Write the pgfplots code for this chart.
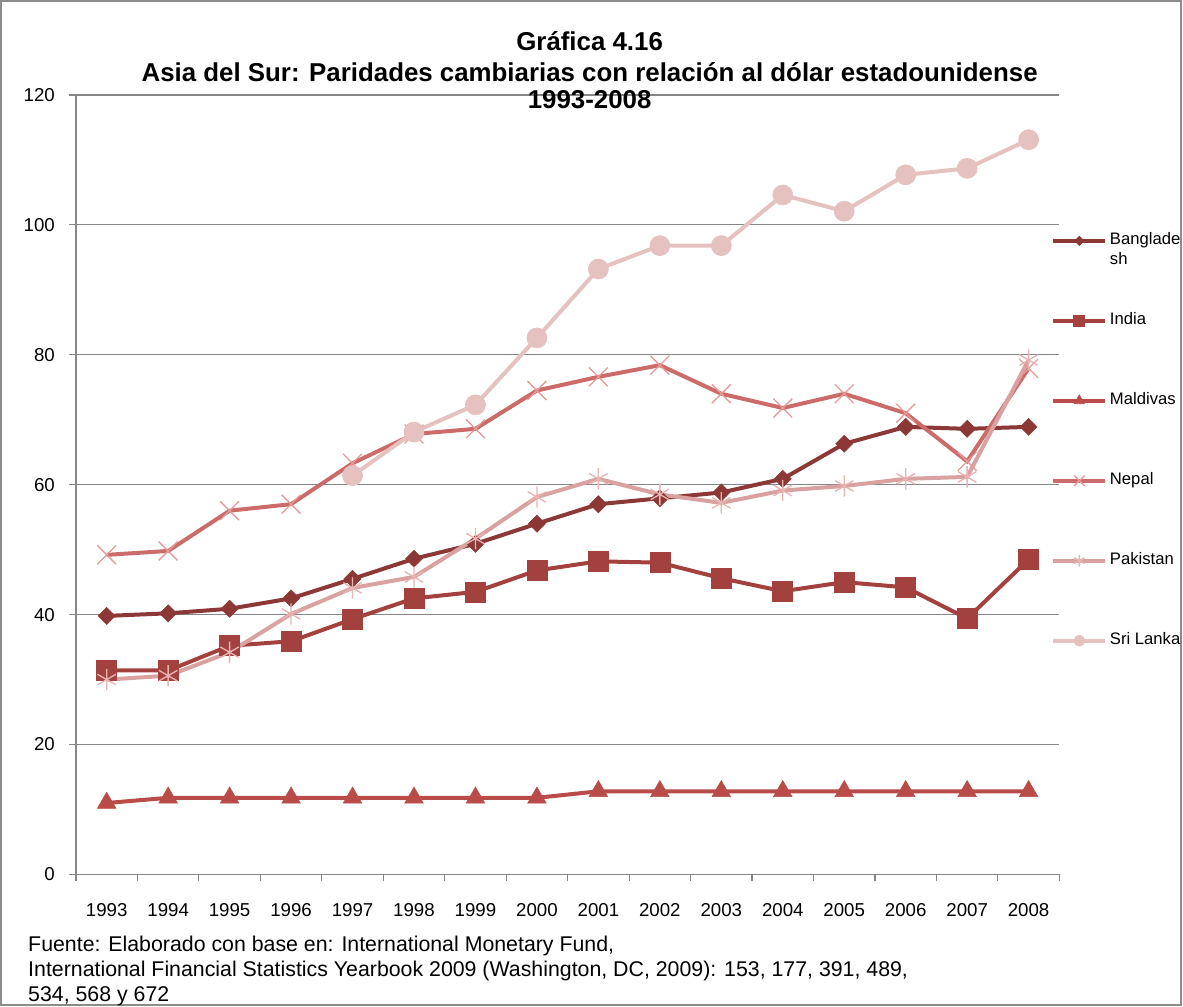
\documentclass[border=0pt]{standalone}
\usepackage{pgfplots}
\pgfplotsset{compat=1.18}
\usepackage{fontspec}
\setmainfont{Liberation Sans}
\definecolor{cBan}{RGB}{139,56,55}
\definecolor{cInd}{RGB}{163,65,62}
\definecolor{cMal}{RGB}{185,76,72}
\definecolor{cNep}{RGB}{204,108,106}
\definecolor{cNepM}{RGB}{228,155,153}
\definecolor{cPak}{RGB}{217,162,160}
\definecolor{cPakM}{RGB}{232,180,178}
\definecolor{cSri}{RGB}{229,193,192}
\definecolor{gridc}{RGB}{134,134,134}
\begin{document}
\begin{tikzpicture}
\path (0pt,0pt) rectangle (887.25pt,755.25pt);
\draw[draw=black!45, line width=1.5pt] (0.75pt,0.75pt) rectangle (886.5pt,754.5pt);
\begin{axis}[
  at={(57pt,99pt)}, anchor=south west,
  scale only axis, width=738pt, height=585pt,
  xmin=-0.5, xmax=15.5, ymin=0, ymax=120,
  ytick={0,20,...,120},
  xtick={-0.5,0.5,...,15.5},
  x tick label as interval,
  xticklabels={1993,1994,1995,1996,1997,1998,1999,2000,2001,2002,2003,2004,2005,2006,2007,2008},
  axis x line*=bottom, axis y line*=left,
  axis line style={draw=gridc, line width=0.9pt, -},
  ymajorgrids, major grid style={draw=gridc, line width=0.9pt},
  tick style={draw=gridc, line width=0.9pt},
  tick align=outside, major tick length=5pt,
  /pgf/number format/assume math mode=true,
  tick label style={font=\fontsize{14}{16}\selectfont},
  xticklabel style={yshift=-12pt},
  yticklabel style={xshift=-6pt},
  line width=3pt,
  legend cell align=left,
  legend style={draw=none, fill=none, at={(0.9898,0.829)}, anchor=north west,
    inner sep=0pt, row sep=44pt, font=\fontsize{12.5}{15}\selectfont,
    nodes={inner sep=2pt, text height=9pt, text depth=3pt}},
  legend image code/.code={\draw[mark repeat=2,mark phase=2,#1, every mark/.append style={scale=0.55}] plot coordinates {(0pt,0pt) (19.5pt,0pt) (39pt,0pt)};},
]
\addplot[color=cBan, mark=square*, mark size=4.5pt, mark options={rotate=45, fill=cBan, draw=cBan, line width=0.5pt}] coordinates {
(0,39.8) (1,40.2) (2,40.9) (3,42.5) (4,45.5) (5,48.6) (6,50.9) (7,54.0) (8,57.0) (9,57.9) (10,58.8) (11,60.9) (12,66.3) (13,68.9) (14,68.6) (15,68.9)};
\addlegendentry{\begin{tabular}[t]{@{}l@{}}Banglade\\sh\end{tabular}}
\addplot[color=cInd, mark=square*, mark size=7.5pt, mark options={fill=cInd, draw=cInd, line width=0.5pt}] coordinates {
(0,31.4) (1,31.4) (2,35.2) (3,35.9) (4,39.3) (5,42.5) (6,43.5) (7,46.8) (8,48.2) (9,48.0) (10,45.6) (11,43.6) (12,45.0) (13,44.2) (14,39.4) (15,48.5)};
\addlegendentry{India}
\addplot[color=cMal, mark=triangle*, mark size=8pt, mark options={fill=cMal, draw=cMal, line width=0.5pt}] coordinates {
(0,11.0) (1,11.8) (2,11.8) (3,11.8) (4,11.8) (5,11.8) (6,11.8) (7,11.8) (8,12.8) (9,12.8) (10,12.8) (11,12.8) (12,12.8) (13,12.8) (14,12.8) (15,12.8)};
\addlegendentry{Maldivas}
\addplot[color=cNep, mark=x, mark size=10pt, mark options={draw=cNepM, line width=1pt}] coordinates {
(0,49.2) (1,49.8) (2,56.0) (3,57.0) (4,63.3) (5,67.8) (6,68.6) (7,74.5) (8,76.6) (9,78.4) (10,74.0) (11,71.8) (12,74.0) (13,71.0) (14,63.6) (15,77.9)};
\addlegendentry{Nepal}
\addplot[color=cPak, mark=asterisk, mark size=8pt, mark options={draw=cPakM, line width=1pt}] coordinates {
(0,30.0) (1,30.6) (2,34.2) (3,40.1) (4,44.1) (5,45.8) (6,51.7) (7,58.1) (8,60.9) (9,58.5) (10,57.2) (11,59.1) (12,59.8) (13,60.9) (14,61.2) (15,79.2)};
\addlegendentry{Pakistan}
\addplot[color=cSri, mark=*, mark size=7.5pt, mark options={fill=cSri, draw=cSri, line width=0.5pt}] coordinates {
(4,61.4) (5,68.1) (6,72.3) (7,82.6) (8,93.2) (9,96.8) (10,96.8) (11,104.6) (12,102.1) (13,107.7) (14,108.7) (15,113.1)};
\addlegendentry{Sri Lanka}
\end{axis}
\node[anchor=base, font=\bfseries\fontsize{19.4}{22}\selectfont] at (442.5pt,717pt) {Gráfica 4.16};
\node[anchor=base, font=\bfseries\fontsize{19.4}{22}\selectfont] at (442.5pt,694.1pt) {Asia del Sur: Paridades cambiarias con relación al dólar estadounidense};
\node[anchor=base, font=\bfseries\fontsize{19.4}{22}\selectfont] at (442.5pt,673.5pt) {1993-2008};
\node[anchor=base west, inner sep=0pt, font=\fontsize{16}{18}\selectfont] at (21pt,41.25pt) {Fuente: Elaborado con base en: International Monetary Fund,};
\node[anchor=base west, inner sep=0pt, font=\fontsize{16}{18}\selectfont] at (21pt,22.5pt) {International Financial Statistics Yearbook 2009 (Washington, DC, 2009): 153, 177, 391, 489,};
\node[anchor=base west, inner sep=0pt, font=\fontsize{16}{18}\selectfont] at (21pt,4pt) {534, 568 y 672};
\end{tikzpicture}
\end{document}
